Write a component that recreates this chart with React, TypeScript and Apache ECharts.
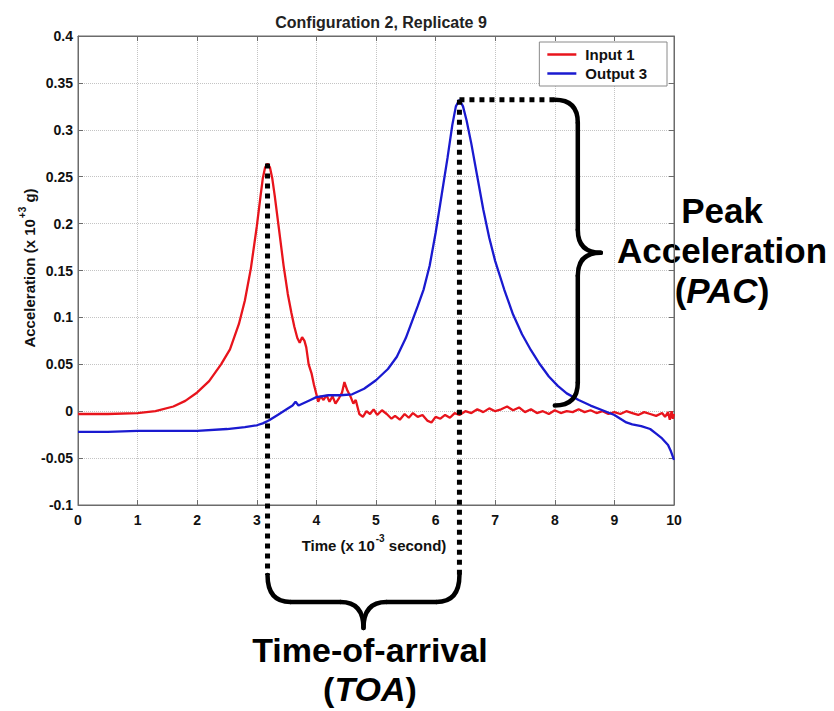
import React, { useEffect, useRef } from "react";
import * as echarts from "echarts";

const chartTitle = "Configuration 2, Replicate 9";
const seriesNames = ["Input 1", "Output 3"];
const xTickMin = 0, xTickMax = 10, xTickStep = 1;
const yTickMin = -0.1, yTickMax = 0.4, yTickStep = 0.05;

// [time (x1e-3 s), acceleration (x1e3 g)]
const input1: [number, number][] = [
  [0, -0.003], [0.5, -0.003], [1.0, -0.002], [1.3, 0.0], [1.6, 0.005], [1.8, 0.011],
  [2.0, 0.02], [2.2, 0.032], [2.4, 0.05], [2.55, 0.066], [2.7, 0.093], [2.8, 0.118],
  [2.9, 0.152], [3.0, 0.197], [3.06, 0.228], [3.1, 0.248], [3.14, 0.26], [3.18, 0.264],
  [3.22, 0.26], [3.26, 0.248], [3.3, 0.23], [3.38, 0.19], [3.45, 0.155], [3.52, 0.125],
  [3.58, 0.105], [3.63, 0.09], [3.68, 0.078], [3.72, 0.073], [3.76, 0.079], [3.8, 0.075],
  [3.83, 0.068], [3.87, 0.05], [3.92, 0.04], [3.96, 0.028], [4.0, 0.018], [4.03, 0.01],
  [4.07, 0.016], [4.12, 0.012], [4.17, 0.017], [4.22, 0.01], [4.27, 0.016], [4.32, 0.008],
  [4.38, 0.014], [4.43, 0.02], [4.47, 0.031], [4.52, 0.022], [4.57, 0.016], [4.62, 0.008],
  [4.66, 0.012], [4.72, -0.003], [4.78, -0.006], [4.84, 0.0], [4.9, -0.003], [4.96, 0.002],
  [5.02, -0.004], [5.1, 0.001], [5.18, -0.003], [5.26, -0.008], [5.32, -0.005], [5.4, -0.009],
  [5.48, -0.003], [5.55, -0.007], [5.62, -0.002], [5.7, -0.006], [5.78, -0.004], [5.86, -0.01],
  [5.93, -0.012], [6.0, -0.006], [6.08, -0.008], [6.16, -0.004], [6.24, -0.007], [6.32, -0.002],
  [6.4, -0.004], [6.5, 0.0], [6.6, -0.002], [6.7, 0.002], [6.8, -0.001], [6.9, 0.003],
  [7.0, 0.0], [7.1, 0.002], [7.2, 0.005], [7.3, 0.001], [7.4, 0.004], [7.5, -0.001],
  [7.6, 0.002], [7.7, -0.002], [7.8, 0.0], [7.9, -0.003], [8.0, 0.001], [8.1, -0.002],
  [8.2, 0.0], [8.3, -0.001], [8.4, 0.002], [8.5, -0.001], [8.6, 0.001], [8.7, -0.002],
  [8.8, 0.0], [8.9, -0.003], [9.0, -0.001], [9.1, -0.003], [9.2, 0.0], [9.3, -0.002],
  [9.4, -0.004], [9.5, -0.001], [9.6, -0.003], [9.7, -0.005], [9.8, -0.002], [9.85, -0.006],
  [9.9, -0.001], [9.93, -0.009], [9.96, 0.0], [9.98, -0.008], [10.0, -0.003],
];

const output3: [number, number][] = [
  [0, -0.022], [0.5, -0.022], [1.0, -0.021], [1.5, -0.021], [2.0, -0.021], [2.5, -0.019],
  [2.8, -0.017], [3.0, -0.015], [3.1, -0.013], [3.2, -0.01], [3.35, -0.004], [3.5, 0.002],
  [3.6, 0.006], [3.65, 0.01], [3.7, 0.006], [3.8, 0.009], [3.9, 0.012], [4.0, 0.015],
  [4.2, 0.017], [4.4, 0.017], [4.6, 0.018], [4.8, 0.024], [5.0, 0.033], [5.2, 0.045],
  [5.35, 0.058], [5.5, 0.078], [5.6, 0.095], [5.7, 0.112], [5.8, 0.13], [5.9, 0.155],
  [6.0, 0.19], [6.1, 0.23], [6.2, 0.27], [6.28, 0.305], [6.34, 0.325], [6.4, 0.332],
  [6.46, 0.325], [6.52, 0.31], [6.6, 0.285], [6.7, 0.25], [6.8, 0.215], [6.9, 0.185],
  [7.0, 0.16], [7.15, 0.13], [7.3, 0.103], [7.45, 0.082], [7.6, 0.065], [7.75, 0.05],
  [7.9, 0.037], [8.05, 0.027], [8.2, 0.019], [8.4, 0.012], [8.6, 0.006], [8.8, 0.001],
  [9.0, -0.004], [9.1, -0.008], [9.2, -0.012], [9.3, -0.014], [9.45, -0.016], [9.6, -0.019],
  [9.7, -0.024], [9.8, -0.029], [9.9, -0.036], [9.95, -0.043], [10.0, -0.052],
];

const pacLines = ["Peak", "Acceleration"];
const pacAbbr = "PAC";
const toaLine = "Time-of-arrival";
const toaAbbr = "TOA";
const pacBraceX = 8.0; // x value where PAC brace begins
const pacBraceBottom = 0.006; // y value of brace bottom

const FONT = "'Liberation Sans', Arial, Helvetica, sans-serif";

function peakOf(d: [number, number][]) {
  return d.reduce((a, b) => (b[1] > a[1] ? b : a));
}

export default function App() {
  const ref = useRef<HTMLDivElement>(null);
  useEffect(() => {
    const chart = echarts.init(ref.current!, null, { renderer: "svg" });
    const axisColor = "#6b6b6b";
    const fmt = (v: number) => String(+v.toFixed(2));
    const option: any = {
      animation: false,
      backgroundColor: "#ffffff",
      title: {
        text: chartTitle,
        left: 376,
        top: 9,
        textAlign: "center",
        textStyle: { fontFamily: FONT, fontWeight: "bold", fontSize: 16, color: "#222" },
      },
      legend: {
        data: seriesNames,
        orient: "vertical",
        right: 167,
        top: 42,
        icon: "rect",
        itemWidth: 29,
        itemHeight: 2.5,
        itemGap: 4,
        padding: [5, 20, 5, 8],
        backgroundColor: "#ffffff",
        borderColor: "#8a8a8a",
        borderWidth: 1,
        borderRadius: 0,
        textStyle: { fontFamily: FONT, fontWeight: "bold", fontSize: 15, color: "#111", padding: [0, 0, 0, 4] },
      },
      grid: {
        left: 78, top: 36, right: 160, bottom: 206,
        show: true, borderColor: axisColor, borderWidth: 1, containLabel: false,
      },
      xAxis: [
        {
          type: "value", min: xTickMin, max: xTickMax, interval: xTickStep,
          axisLine: { show: true, onZero: false, lineStyle: { color: axisColor } },
          axisTick: { show: true, inside: true, length: 5, lineStyle: { color: axisColor } },
          axisLabel: { margin: 8, color: "#111", fontFamily: FONT, fontWeight: "bold", fontSize: 14 },
          splitLine: { show: true, lineStyle: { color: "#c4c4c4", type: "dotted", width: 1 } },
        },
        {
          type: "value", position: "top", min: xTickMin, max: xTickMax, interval: xTickStep,
          axisLine: { show: true, onZero: false, lineStyle: { color: axisColor } },
          axisTick: { show: true, inside: true, length: 5, lineStyle: { color: axisColor } },
          axisLabel: { show: false }, splitLine: { show: false },
        },
      ],
      yAxis: [
        {
          type: "value", min: yTickMin, max: yTickMax, interval: yTickStep,
          axisLine: { show: true, onZero: false, lineStyle: { color: axisColor } },
          axisTick: { show: true, inside: true, length: 5, lineStyle: { color: axisColor } },
          axisLabel: { margin: 5, color: "#111", fontFamily: FONT, fontWeight: "bold", fontSize: 14, formatter: fmt },
          splitLine: { show: true, lineStyle: { color: "#c4c4c4", type: "dotted", width: 1 } },
        },
        {
          type: "value", position: "right", min: yTickMin, max: yTickMax, interval: yTickStep,
          axisLine: { show: true, onZero: false, lineStyle: { color: axisColor } },
          axisTick: { show: true, inside: true, length: 5, lineStyle: { color: axisColor } },
          axisLabel: { show: false }, splitLine: { show: false },
        },
      ],
      series: [
        {
          name: seriesNames[0], type: "line", data: input1, showSymbol: false, symbol: "none",
          lineStyle: { color: "#e8141c", width: 2.3 }, itemStyle: { color: "#e8141c" }, z: 3,
        },
        {
          name: seriesNames[1], type: "line", data: output3, showSymbol: false, symbol: "none",
          lineStyle: { color: "#1a1ad0", width: 2.3 }, itemStyle: { color: "#1a1ad0" }, z: 3,
        },
      ],
    };
    chart.setOption(option);

    const px = (x: number, y: number) => chart.convertToPixel({ gridIndex: 0 }, [x, y]) as number[];
    const rp = peakOf(input1);
    const bp = peakOf(output3);
    const [rx, ry] = px(rp[0], rp[1]);
    const [bx, by] = px(bp[0], bp[1]);
    const bracX = px(pacBraceX, 0)[0];
    const bracBot = px(0, pacBraceBottom)[1];
    const dotStyle = { stroke: "#000", lineWidth: 5, lineDash: [5, 5], lineCap: "butt" };
    const braceStyle = { stroke: "#000", lineWidth: 4.5, fill: "none", lineCap: "round" };

    const r = 23;
    const vx = bracX + r;
    const tipX = vx + r;
    const midY = (by + bracBot) / 2;
    const dotEnd = 575;
    const hy = 602;
    const tipY = 628;
    const midX = (rx + bx) / 2;

    const bz = (x1: number, y1: number, cx: number, cy: number, x2: number, y2: number) => ({
      type: "bezierCurve",
      shape: { x1, y1, x2, y2, cpx1: cx, cpy1: cy },
      style: braceStyle, silent: true, z: 10,
    });
    const ln = (x1: number, y1: number, x2: number, y2: number, style: any = braceStyle) => ({
      type: "line", shape: { x1, y1, x2, y2 }, style, silent: true, z: 10,
    });
    const bold = (size: number) => ({ fontFamily: FONT, fontWeight: "bold", fontSize: size, fill: "#000" });

    const graphic: any[] = [
      ln(rx, ry, rx, dotEnd, dotStyle),
      ln(bx, by, bx, dotEnd, dotStyle),
      ln(bx, by, bracX, by, dotStyle),
      bz(bracX, by, vx, by, vx, by + r),
      ln(vx, by + r, vx, midY - r),
      bz(vx, midY - r, vx, midY, tipX, midY),
      bz(tipX, midY, vx, midY, vx, midY + r),
      ln(vx, midY + r, vx, bracBot - r),
      bz(vx, bracBot - r, vx, bracBot, bracX, bracBot),
      bz(rx, dotEnd, rx, hy, rx + r, hy),
      ln(rx + r, hy, midX - r, hy),
      bz(midX - r, hy, midX, hy, midX, tipY),
      bz(midX, tipY, midX, hy, midX + r, hy),
      ln(midX + r, hy, bx - r, hy),
      bz(bx - r, hy, bx, hy, bx, dotEnd),
      {
        type: "text", x: 27, y: 268, rotation: Math.PI / 2, silent: true,
        style: {
          text: "{n|Acceleration (x 10}{s|+3}{n| g)}",
          align: "center", verticalAlign: "middle",
          rich: {
            n: { ...bold(15), fill: "#111", lineHeight: 20, verticalAlign: "bottom" },
            s: { ...bold(10), fill: "#111", lineHeight: 20, verticalAlign: "top", padding: [0, 0, 0, 1] },
          },
        },
      },
      {
        type: "text", x: 374, y: 543, silent: true,
        style: {
          text: "{n|Time (x 10}{s|-3}{n| second)}",
          align: "center", verticalAlign: "middle",
          rich: {
            n: { ...bold(15), fill: "#111", lineHeight: 20, verticalAlign: "bottom" },
            s: { ...bold(10), fill: "#111", lineHeight: 20, verticalAlign: "top", padding: [0, 0, 0, 1] },
          },
        },
      },
      {
        type: "text", x: 722, y: 250, silent: true,
        style: {
          text: `{n|${pacLines[0]}}\n{n|${pacLines[1]}}\n{n|(}{i|${pacAbbr}}{n|)}`,
          align: "center", verticalAlign: "middle",
          rich: {
            n: { ...bold(35), lineHeight: 40 },
            i: { ...bold(35), fontStyle: "italic", lineHeight: 40 },
          },
        },
      },
      {
        type: "text", x: 370, y: 669, silent: true,
        style: {
          text: `{n|${toaLine}}\n{n|(}{i|${toaAbbr}}{n|)}`,
          align: "center", verticalAlign: "middle",
          rich: {
            n: { ...bold(34), lineHeight: 39 },
            i: { ...bold(34), fontStyle: "italic", lineHeight: 39 },
          },
        },
      },
    ];
    chart.setOption({ graphic });
    return () => chart.dispose();
  }, []);
  return <div ref={ref} style={{ position: "absolute", left: 0, top: 0, width: 834, height: 711 }} />;
}
